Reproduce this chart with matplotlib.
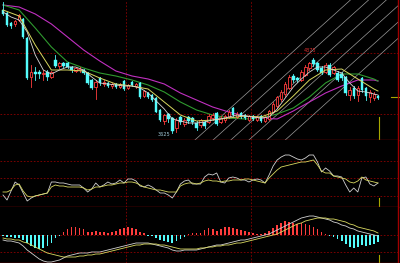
import matplotlib
matplotlib.use("Agg")
import matplotlib.pyplot as plt
import numpy as np
from matplotlib.patches import Rectangle

# ---- daily bars (index 0 = leftmost bar) ----
opens = [4855, 4825, 4725, 4715, 4755, 4765, 4575, 4185, 4235, 4235,
         4215, 4235, 4185, 4355, 4295, 4325, 4325, 4285, 4245, 4255,
         4255, 4225, 4155, 4085, 4175, 4115, 4125, 4095, 4115, 4085,
         4145, 4075, 4135, 4095, 4125, 3995, 4025, 4005, 3975, 3855,
         3745, 3815, 3775, 3675, 3785, 3715, 3785, 3775, 3725, 3705,
         3735, 3735, 3775, 3825, 3735, 3755, 3785, 3875, 3785, 3825,
         3805, 3755, 3795, 3755, 3795, 3745, 3765, 3835, 3895, 3965,
         4015, 4075, 4195, 4175, 4155, 4205, 4275, 4355, 4325, 4275,
         4235, 4305, 4225, 4225, 4215, 4185, 4005, 4075, 4005, 4175,
         4075, 3985, 3975, 3995]
closes = [4815, 4705, 4695, 4745, 4805, 4585, 4175, 4235, 4215, 4215,
          4225, 4185, 4235, 4295, 4325, 4295, 4285, 4255, 4275, 4265,
          4225, 4125, 4075, 4135, 4125, 4135, 4095, 4115, 4085, 4115,
          4065, 4105, 4105, 4115, 3985, 4045, 3985, 3955, 3835, 3755,
          3805, 3765, 3645, 3755, 3735, 3755, 3745, 3735, 3675, 3755,
          3695, 3795, 3805, 3715, 3775, 3795, 3835, 3805, 3815, 3785,
          3775, 3795, 3765, 3785, 3745, 3785, 3845, 3915, 3985, 4035,
          4115, 4185, 4155, 4155, 4235, 4285, 4325, 4315, 4255, 4225,
          4305, 4205, 4285, 4155, 4175, 4025, 4055, 3995, 4075, 4055,
          3995, 4035, 4015, 3975]
highs = [4935, 4835, 4735, 4755, 4815, 4775, 4585, 4305, 4285, 4255,
         4255, 4255, 4245, 4405, 4335, 4335, 4335, 4295, 4285, 4285,
         4265, 4235, 4165, 4155, 4185, 4155, 4135, 4125, 4125, 4125,
         4155, 4115, 4145, 4125, 4135, 4055, 4035, 4015, 3985, 3865,
         3815, 3825, 3785, 3775, 3795, 3775, 3795, 3785, 3745, 3765,
         3745, 3815, 3825, 3835, 3795, 3805, 3855, 3885, 3835, 3835,
         3815, 3805, 3805, 3795, 3805, 3795, 3855, 3935, 3995, 4055,
         4135, 4205, 4215, 4185, 4255, 4305, 4335, 4375, 4335, 4295,
         4325, 4325, 4295, 4245, 4235, 4195, 4085, 4095, 4095, 4185,
         4085, 4055, 4035, 4005]
lows = [4805, 4695, 4675, 4695, 4745, 4575, 4165, 4085, 4155, 4175,
        4155, 4155, 4175, 4285, 4275, 4285, 4275, 4235, 4235, 4235,
        4215, 4115, 4065, 3965, 4105, 4095, 4085, 4075, 4075, 4075,
        4055, 4065, 4095, 4075, 3975, 3985, 3975, 3945, 3835, 3745,
        3715, 3735, 3625, 3635, 3715, 3695, 3725, 3715, 3655, 3685,
        3675, 3725, 3755, 3705, 3725, 3735, 3775, 3795, 3775, 3775,
        3765, 3745, 3755, 3745, 3735, 3735, 3755, 3825, 3875, 3945,
        3995, 4065, 4135, 4135, 4145, 4195, 4255, 4295, 4245, 4215,
        4225, 4195, 4215, 4145, 4155, 4005, 3955, 3975, 3945, 4035,
        3955, 3935, 3955, 3965]

# moving averages (bar index, value)
ma5_idx = list(range(0, 93, 2)) + [93]
ma5 = [4835, 4785, 4755, 4635, 4405, 4255, 4215, 4255, 4285, 4285,
       4255, 4185, 4125, 4115, 4105, 4095, 4095, 4075, 4025, 3945,
       3865, 3765, 3745, 3725, 3725, 3735, 3755, 3765, 3785, 3805,
       3795, 3785, 3775, 3785, 3865, 3975, 4085, 4165, 4235, 4285,
       4285, 4255, 4225, 4125, 4045, 4035, 4015, 4005]
ma_idx = list(range(0, 93, 4)) + [93]
ma10 = [4855, 4795, 4505, 4255, 4255, 4245, 4175, 4115, 4095, 4065,
        3935, 3805, 3745, 3755, 3775, 3795, 3785, 3845, 3995, 4155,
        4255, 4265, 4165, 4065, 4045]
ma20 = [4905, 4855, 4675, 4485, 4335, 4275, 4225, 4195, 4155, 4105,
        4035, 3935, 3855, 3805, 3775, 3765, 3775, 3815, 3875, 3985,
        4125, 4215, 4215, 4165, 4145]
ma60 = [4905, 4885, 4815, 4715, 4585, 4455, 4345, 4245, 4195, 4165,
        4115, 4025, 3955, 3885, 3835, 3795, 3775, 3765, 3845, 3935,
        4025, 4095, 4155, 4155, 4145]

# parallel channel drawn on the chart
chan_start = [47.6, 52.1, 56.5, 61.0, 65.5, 70.0]
chan_base = 3555
chan_rise = 36.3          # price per bar
low_label, high_label = "3625", "4375"

# oscillator (two lines)
osc_k = [12, 7, 16, 25, 22, 14, 6, 9, 11, 12,
         13, 14, 25, 25, 24, 24, 23, 22, 22, 22,
         19, 15, 18, 24, 20, 22, 25, 23, 24, 27,
         24, 28, 28, 26, 21, 20, 22, 20, 17, 14,
         14, 12, 9, 15, 23, 26, 27, 23, 23, 23,
         30, 33, 32, 34, 25, 24, 29, 30, 29, 27,
         27, 25, 27, 28, 27, 24, 32, 41, 47, 50,
         52, 52, 50, 48, 47, 49, 52, 52, 45, 35,
         39, 36, 31, 31, 30, 22, 15, 19, 15, 29,
         30, 23, 21, 24]
osc_d = [15, 15, 17, 22, 23, 16, 11, 10, 11, 12,
         13, 14, 20, 22, 21, 21, 20, 20, 20, 20,
         19, 17, 18, 20, 20, 21, 22, 22, 23, 24,
         24, 25, 25, 24, 22, 20, 19, 18, 17, 17,
         16, 15, 15, 15, 21, 23, 24, 24, 23, 24,
         26, 27, 26, 26, 25, 26, 26, 27, 27, 27,
         28, 28, 27, 26, 25, 24, 29, 33, 37, 40,
         41, 42, 43, 44, 45, 45, 46, 47, 42, 36,
         34, 34, 31, 30, 29, 28, 25, 24, 26, 30,
         27, 26, 25, 24]

# MACD
dif = [-50, -60, -60, -70, -80, -110, -150, -180, -210, -240,
       -260, -270, -270, -260, -250, -230, -210, -200, -190, -180,
       -180, -180, -170, -170, -170, -160, -150, -140, -130, -120,
       -110, -100, -90, -80, -80, -80, -80, -90, -100, -110,
       -120, -130, -150, -160, -160, -150, -150, -150, -150, -140,
       -130, -120, -110, -100, -100, -90, -80, -70, -60, -50,
       -50, -40, -30, -20, -10, 0, 10, 30, 50, 70,
       90, 110, 130, 150, 170, 180, 190, 190, 180, 170,
       160, 150, 130, 120, 100, 90, 70, 60, 40, 30,
       20, 10, 0, -10]
dea = [-30, -40, -40, -50, -50, -70, -80, -100, -120, -140,
       -160, -180, -190, -200, -210, -220, -220, -220, -220, -210,
       -210, -200, -200, -190, -190, -180, -170, -160, -150, -140,
       -130, -120, -110, -100, -100, -90, -90, -90, -90, -100,
       -100, -110, -120, -130, -140, -140, -140, -140, -140, -130,
       -130, -120, -120, -110, -110, -100, -100, -90, -80, -80,
       -70, -60, -50, -40, -30, -20, -10, 0, 10, 30,
       50, 70, 90, 110, 120, 140, 150, 160, 170, 170,
       170, 160, 160, 150, 140, 130, 110, 100, 80, 70,
       60, 50, 40, 20]
macd_hist = [-10, -20, -20, -30, -30, -50, -80, -110, -130, -140,
             -130, -110, -80, -30, -10, 30, 60, 80, 80, 70,
             60, 30, 30, 40, 30, 30, 20, 30, 40, 60,
             70, 80, 70, 60, 30, 20, -10, -10, -30, -50,
             -60, -70, -80, -60, -40, -20, 10, 20, 20, 20,
             50, 70, 60, 40, 60, 80, 80, 70, 60, 50,
             40, 30, 20, 10, 10, 20, 40, 70, 100, 120,
             140, 130, 120, 110, 120, 110, 100, 80, 60, 30,
             10, -10, -20, -40, -60, -90, -120, -130, -120, -100,
             -110, -100, -90, -70]

UP = "#ff3c3c"
DOWN = "#54fcfc"
GRID = "#8c0000"
FRAME = "#a00000"
CURSOR = "#a8a800"

XLIM = (-0.744, 97.97)
last_bar = 93.3

fig = plt.figure(figsize=(4, 2.63), dpi=100, facecolor="black")
ax_k = fig.add_axes([0, 123 / 263, 398 / 400, 140 / 263])
ax_o = fig.add_axes([0, 56 / 263, 398 / 400, 67 / 263])
ax_m = fig.add_axes([0, 0, 398 / 400, 56 / 263])

for ax in (ax_k, ax_o, ax_m):
    ax.set_facecolor("black")
    ax.set_xlim(*XLIM)
    ax.set_xticks([])
    ax.set_yticks([])
    for sp in ax.spines.values():
        sp.set_color(FRAME)
        sp.set_linewidth(1.0)
    ax.spines["top"].set_visible(False)
    ax.spines["left"].set_visible(False)
    for gx in (30.5, 61.5):
        ax.axvline(gx, color=GRID, lw=0.6, ls=(0, (2, 2)), zorder=0)

# ---- main panel ----
ax_k.set_ylim(3555, 4955)
for gy in (4425, 3815):
    ax_k.axhline(gy, color=GRID, lw=0.6, ls=(0, (2, 2)), zorder=0)

for s in chan_start:
    ax_k.plot([s, s + 45], [chan_base, chan_base + 45 * chan_rise],
              color="#9a9a9a", lw=0.5, zorder=1)

w = 0.62
for i, (o, c, h, l) in enumerate(zip(opens, closes, highs, lows)):
    up = c >= o
    col = UP if up else DOWN
    ax_k.plot([i, i], [l, h], color=col, lw=0.6, zorder=3)
    bottom = min(o, c)
    height = max(abs(c - o), 8)
    if up:
        ax_k.add_patch(Rectangle((i - w / 2, bottom), w, height, facecolor="black",
                                 edgecolor=col, lw=0.6, zorder=4))
    else:
        ax_k.add_patch(Rectangle((i - w / 2, bottom), w, height, facecolor=col,
                                 edgecolor=col, lw=0.3, zorder=4))

ax_k.plot(ma_idx, ma60, color="#c030c0", lw=0.8, zorder=2)
ax_k.plot(ma_idx, ma20, color="#2f9a2f", lw=0.8, zorder=2)
ax_k.plot(ma_idx, ma10, color="#d8d860", lw=0.7, zorder=5)
ax_k.plot(ma5_idx, ma5, color="#d8d8d8", lw=0.6, zorder=5)

ax_k.text(40.0, 3615, low_label, color="#a0c8d8", fontsize=3.6,
          ha="center", va="center", zorder=6)
ax_k.text(76.2, 4455, high_label, color="#e03030", fontsize=3.6,
          ha="center", va="center", zorder=6)

ax_k.axvline(last_bar, ymin=0, ymax=23 / 140, color=CURSOR, lw=0.8)
ax_k.plot([96.2, 98.5], [3985, 3985], color=CURSOR, lw=0.8, clip_on=False)

# ---- oscillator panel ----
ax_o.set_ylim(0, 67)
for gy in (46, 29, 11):
    ax_o.axhline(gy, color=GRID, lw=0.6, ls=(0, (2, 2)), zorder=0)
bars = np.arange(len(osc_k))
ax_o.plot(bars, osc_k, color="#d0d0d0", lw=0.6)
ax_o.plot(bars, osc_d, color="#d8d860", lw=0.6)
ax_o.axvline(last_bar, ymin=0, ymax=9 / 67, color=CURSOR, lw=0.8)

# ---- MACD panel ----
ax_m.set_ylim(-280, 280)
for gy in (0, -170):
    ax_m.axhline(gy, color=GRID, lw=0.6, ls=(0, (2, 2)), zorder=0)
hist = np.array(macd_hist)
hist_col = [UP if v > 0 else DOWN for v in hist]
ax_m.bar(bars, hist, width=0.42, color=hist_col, linewidth=0, zorder=2)
ax_m.plot(bars, dif, color="#d0d0d0", lw=0.6, zorder=3)
ax_m.plot(bars, dea, color="#d8d860", lw=0.6, zorder=3)
ax_m.axvline(last_bar, ymin=0, ymax=8 / 56, color=CURSOR, lw=0.8)

fig.savefig("out.png", dpi=100, facecolor="black")
